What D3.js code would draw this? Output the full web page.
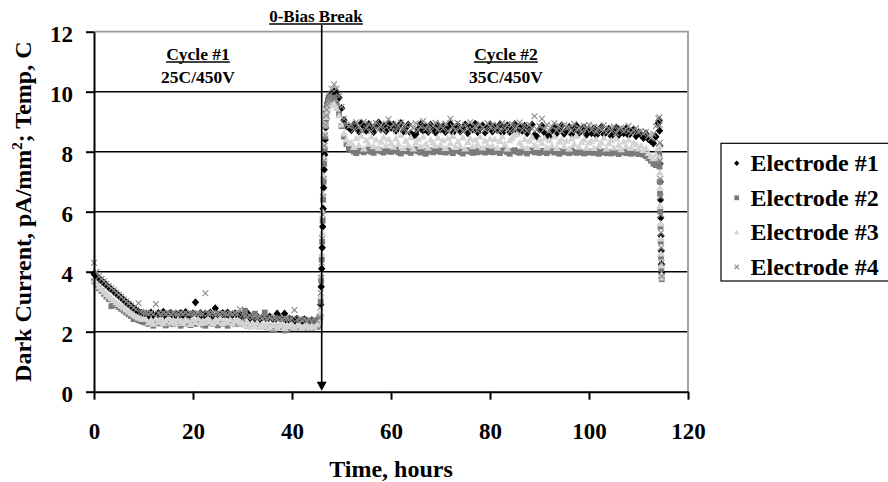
<!DOCTYPE html>
<html>
<head>
<meta charset="utf-8">
<script src="https://cdn.jsdelivr.net/npm/d3@7"></script>
<style>
  html, body { margin: 0; padding: 0; background: #fff; }
  svg { display: block; }
  text { font-family: "Liberation Serif", "Times New Roman", serif; font-weight: bold; fill: #000; }
</style>
</head>
<body>
<svg id="chart" width="888" height="482"></svg>
<script>
// Logger clock: first hour and sampling interval of each recorded segment
// (cycle 1, bias ramp-up, cycle 2, final ramp-down)
const segmentStart = [0, 45.6, 48, 114.2];
const segmentStep = [0.5, 0.1, 0.5, 0.05];

// Axis ticks
const xTicks = [0, 20, 40, 60, 80, 100, 120];
const yTicks = [0, 2, 4, 6, 8, 10, 12];

// Annotation positions (hours)
const breakHour = 46;

// ---- Electrode #1 (pA/mm^2) ----
const e1Cycle1 = [3.92,3.84,3.78,3.70,3.63,3.55,3.47,3.41,3.34,3.27,3.20,3.13,3.05,2.98,2.91,2.85,2.78,2.72,2.67,2.63,2.60,
  2.6,2.52,2.64,2.55,2.5,2.62,2.57,2.66,2.51,2.59,2.63,2.53,2.6,2.48,2.62,2.56,2.65,2.52,2.58,2.61,
  2.98,2.54,2.62,2.5,2.6,2.56,2.64,2.52,2.78,2.58,2.5,2.62,2.55,2.64,2.49,2.58,2.61,2.52,2.57,
  2.5,2.56,2.62,2.45,2.52,2.44,2.5,2.42,2.48,2.53,2.4,2.5,2.44,2.38,2.6,2.46,2.4,2.6,2.36,2.44,
  2.4,2.34,2.43,2.37,2.32,2.41,2.36,2.3,2.39,2.34,2.38,2.42];
const e1Rise = [2.42,2.55,2.9,3.5,4.1,4.8,5.5,6.1,6.8,7.4,7.9,8.4,8.8,9.1,9.35,9.5,9.6,9.68,9.75,9.8,9.85];
const e1Cycle2 = [9.9,10.0,10.0,9.8,9.45,9.05,8.85,8.8,
  8.72,8.9,8.8,8.68,8.95,8.84,8.7,8.92,8.78,8.66,8.88,8.97,8.74,8.86,8.69,8.93,8.8,
  8.9,8.7,8.84,8.95,8.67,8.8,8.9,8.62,8.52,8.58,8.75,8.92,8.7,8.83,8.66,8.9,8.78,8.64,8.88,8.74,
  8.85,8.66,8.78,8.92,8.63,8.8,8.88,8.68,8.75,8.9,8.62,8.82,8.74,8.93,8.65,8.79,8.87,8.64,8.8,8.9,
  8.68,8.84,8.72,8.9,8.62,8.8,8.88,8.66,8.76,8.92,8.64,8.82,8.7,8.86,8.62,8.78,8.9,8.56,8.5,8.74,
  8.86,8.64,8.55,8.5,8.7,8.84,8.62,8.76,8.88,8.6,8.72,8.82,8.58,8.74,8.86,8.63,8.7,8.8,8.57,8.72,
  8.62,8.78,8.55,8.7,8.82,8.58,8.66,8.76,8.52,8.68,8.8,8.56,8.7,8.62,8.77,8.54,8.66,8.74,8.52,8.64,
  8.56,8.46,8.6,8.42,8.36,8.28,8.5,8.95];
const e1Drop = [9.05,8.7,8.2,7.6,7.0,6.4,5.8,5.2,4.7,4.25,3.95];

// ---- Electrode #2 ----
const e2Cycle1 = [3.68,3.56,3.45,3.36,3.26,3.17,3.08,2.85,2.95,2.88,2.82,2.76,2.7,2.64,2.58,2.52,2.42,2.42,2.38,2.35,2.32,
  2.3,2.26,2.32,2.2,2.29,2.33,2.27,2.31,2.21,2.28,2.32,2.25,2.3,2.28,2.2,2.31,2.27,2.33,2.22,2.29,
  2.26,2.3,2.32,2.24,2.2,2.29,2.33,2.26,2.3,2.21,2.31,2.27,2.3,2.2,2.28,2.32,2.25,2.29,2.27,
  2.3,2.7,2.2,2.18,2.22,2.6,2.2,2.17,2.19,2.64,2.16,2.18,2.05,2.06,2.15,2.17,2.16,2.04,2.06,2.14,
  2.16,2.12,2.15,2.13,2.16,2.12,2.14,2.17,2.13,2.16,2.15,2.2];
const e2Rise = [2.3,2.5,3.0,3.7,4.4,5.0,5.7,6.4,7.0,7.6,8.1,8.5,8.85,9.1,9.3,9.42,9.5,9.56,9.6,9.62,9.64];
const e2Cycle2 = [9.7,9.8,9.6,9.25,8.85,8.5,8.25,8.1,
  8.05,8.0,7.95,8.02,8.06,7.98,8.03,8.08,8.0,7.96,8.04,8.07,8.01,7.97,8.05,8.02,7.99,
  8.03,8.06,7.98,7.94,8.02,8.05,8.0,7.96,8.04,8.08,8.01,7.97,8.03,7.93,8.0,8.05,7.98,8.02,8.06,7.99,
  8.02,7.97,8.05,8.0,7.95,8.03,8.07,7.99,7.94,8.02,8.05,8.0,7.96,8.04,7.98,8.01,8.06,7.97,8.03,8.0,
  7.98,8.04,8.0,7.95,8.03,8.06,7.98,7.93,8.02,8.05,7.99,7.96,8.03,8.0,7.94,8.02,8.05,7.98,8.01,7.96,
  8.03,7.99,7.95,8.02,8.05,7.97,8.0,7.93,8.03,7.98,8.01,7.95,8.04,7.99,7.96,8.02,7.98,7.94,8.01,7.97,
  8.0,7.96,8.02,7.93,7.98,8.01,7.95,7.99,7.94,8.0,7.97,7.92,7.98,8.01,7.95,7.97,7.93,7.99,7.96,7.92,
  7.95,7.9,7.85,7.78,7.7,7.6,7.55,7.65];
const e2Drop = [7.9,7.5,7.0,6.6,6.0,5.5,5.0,4.5,4.1,3.85,3.75];

// ---- Electrode #3 ----
const e3Cycle1 = [3.7,3.6,3.5,3.42,3.33,3.25,3.18,3.11,3.05,2.98,2.92,2.86,2.8,2.74,2.68,2.62,2.56,2.51,2.47,2.44,2.42,
  2.42,2.3,2.38,2.26,2.44,2.33,2.4,2.28,2.36,2.45,2.3,2.39,2.27,2.42,2.34,2.29,2.41,2.36,2.25,2.4,
  2.32,2.44,2.28,2.37,2.3,2.43,2.35,2.27,2.4,2.33,2.45,2.29,2.38,2.31,2.42,2.26,2.36,2.4,2.3,
  2.3,2.22,2.32,2.18,2.27,2.2,2.3,2.15,2.25,2.19,2.28,2.14,2.22,2.26,2.13,2.2,2.27,2.12,2.22,2.17,
  2.25,2.13,2.2,2.24,2.12,2.19,2.23,2.14,2.2,2.16,2.24,2.3];
const e3Rise = [2.35,2.6,3.2,3.9,4.6,5.3,6.0,6.6,7.2,7.8,8.2,8.6,8.9,9.15,9.3,9.4,9.48,9.52,9.56,9.58,9.6];
const e3Cycle2 = [9.55,9.6,9.45,9.2,8.9,8.6,8.4,8.28,
  8.3,8.15,8.45,8.22,8.52,8.1,8.38,8.26,8.5,8.18,8.4,8.12,8.33,8.48,8.2,8.42,8.28,
  8.16,8.44,8.25,8.55,8.12,8.36,8.22,8.48,8.1,8.3,8.42,8.18,8.5,8.26,8.13,8.4,8.3,8.2,8.46,8.24,
  8.38,8.12,8.45,8.28,8.52,8.15,8.34,8.2,8.47,8.1,8.32,8.44,8.18,8.4,8.25,8.5,8.14,8.36,8.22,8.43,
  8.2,8.42,8.13,8.35,8.5,8.24,8.1,8.38,8.46,8.55,8.6,8.3,8.18,8.42,8.12,8.36,8.48,8.22,8.15,8.4,
  8.28,8.45,8.14,8.38,8.2,8.5,8.12,8.33,8.42,8.18,8.36,8.1,8.44,8.25,8.52,8.16,8.32,8.4,8.13,8.3,
  8.36,8.12,8.42,8.2,8.3,8.46,8.1,8.28,8.38,8.14,8.44,8.22,8.08,8.34,8.18,8.4,8.12,8.3,8.24,8.1,
  8.2,8.05,8.12,7.95,7.85,7.78,7.9,8.1];
const e3Drop = [8.2,7.8,7.3,6.8,6.2,5.6,5.1,4.6,4.2,3.9,3.8];

// ---- Electrode #4 ----
const e4Cycle1 = [4.3,4.0,3.85,3.76,3.68,3.6,3.52,3.45,3.38,3.3,3.23,3.16,3.08,3.01,2.94,2.88,2.8,2.74,2.95,2.66,2.63,
  2.62,2.6,2.63,2.59,2.92,2.61,2.58,2.62,2.6,2.63,2.59,2.62,2.6,2.58,2.62,2.6,2.63,2.59,2.61,2.6,
  2.58,2.62,2.6,2.59,3.28,2.61,2.6,2.62,2.58,2.61,2.59,2.62,2.6,2.58,2.61,2.59,2.62,2.6,2.75,
  2.55,2.52,2.5,2.53,2.48,2.5,2.47,2.49,2.46,2.48,2.45,2.47,2.44,2.46,2.43,2.45,2.42,2.44,2.43,2.41,
  2.43,2.72,2.4,2.42,2.39,2.41,2.38,2.4,2.37,2.39,2.38,2.45];
const e4Rise = [2.5,2.8,3.3,3.8,4.3,5.1,5.9,6.5,7.1,7.7,8.2,8.55,8.9,9.2,9.4,9.55,9.65,9.72,9.8,9.85,9.9];
const e4Cycle2 = [10.1,10.25,10.1,9.85,9.5,9.1,8.9,8.85,
  8.9,8.74,8.98,8.82,8.7,9.0,8.78,8.92,8.68,8.86,8.96,8.75,8.88,8.72,8.94,9.08,8.8,
  8.92,8.7,8.85,8.97,8.74,8.88,8.66,8.9,8.78,8.95,8.72,8.84,9.02,8.76,8.9,8.68,8.86,8.96,8.74,8.88,
  8.78,8.94,8.7,9.1,8.84,8.72,8.96,8.8,8.68,8.9,8.76,8.98,8.72,8.86,8.7,8.92,8.8,8.74,8.95,8.82,
  8.9,8.72,8.86,8.7,8.96,8.78,8.88,8.68,8.92,8.76,8.84,8.97,8.72,8.88,8.7,8.9,8.78,9.18,8.74,8.86,
  9.1,8.76,8.9,8.7,8.84,8.95,8.72,8.86,8.68,8.9,8.78,8.82,8.7,8.92,8.74,8.8,8.66,8.86,8.76,8.9,
  8.72,8.84,8.66,8.8,8.74,8.88,8.64,8.78,8.7,8.84,8.62,8.76,8.8,8.68,8.74,8.86,8.62,8.72,8.78,8.66,
  8.7,8.6,8.66,8.52,8.45,8.6,8.85,9.1];
const e4Drop = [9.15,8.9,8.3,7.7,7.1,6.5,5.9,5.3,4.8,4.3,3.85];

const seriesNames = ["Electrode #1", "Electrode #2", "Electrode #3", "Electrode #4"];
const seriesSegments = [
  [e1Cycle1, e1Rise, e1Cycle2, e1Drop],
  [e2Cycle1, e2Rise, e2Cycle2, e2Drop],
  [e3Cycle1, e3Rise, e3Cycle2, e3Drop],
  [e4Cycle1, e4Rise, e4Cycle2, e4Drop]
];

// Marker styles per series
const markerPath = [
  "M0,-4.1L3.7,0L0,4.1L-3.7,0Z",
  "M-2.9,-2.9h5.8v5.8h-5.8Z",
  "M0,-3.7L4,2.9L-4,2.9Z",
  "M-2.9,-2.9L2.9,2.9M2.9,-2.9L-2.9,2.9"
];
const markerFill = ["#000", "#7a7a7a", "#d4d4d4", "none"];
const markerStroke = ["none", "none", "none", "#8a8a8a"];

// Build (hour, value) records
const series = seriesSegments.map((segs, s) => ({
  name: seriesNames[s],
  points: segs.flatMap((vals, k) => vals.map((v, i) => ({ t: segmentStart[k] + i * segmentStep[k], v })))
}));

const svg = d3.select("#chart");
const plot = { left: 94, right: 688, top: 31.7, bottom: 391.7 };

const x = d3.scaleLinear().domain([0, 120]).range([plot.left, plot.right]);
const y = d3.scaleLinear().domain([0, 12]).range([plot.bottom, plot.top]);

svg.append("rect").attr("width", 888).attr("height", 482).attr("fill", "#fff");

// Horizontal gridlines
svg.append("g")
  .selectAll("line")
  .data(yTicks.filter(d => d > 0 && d < 12))
  .join("line")
  .attr("x1", plot.left).attr("x2", plot.right)
  .attr("y1", d => y(d)).attr("y2", d => y(d))
  .attr("stroke", "#000").attr("stroke-width", 1.6);

// Plot-area border (top and right)
svg.append("path")
  .attr("d", `M${plot.left},${plot.top}H${plot.right}V${plot.bottom}`)
  .attr("fill", "none").attr("stroke", "#9a9a9a").attr("stroke-width", 1.8);

// Data markers
series.forEach((s, i) => {
  svg.append("g")
    .selectAll("path")
    .data(s.points)
    .join("path")
    .attr("transform", d => `translate(${x(d.t)},${y(d.v)})`)
    .attr("d", markerPath[i])
    .attr("fill", markerFill[i])
    .attr("stroke", markerStroke[i])
    .attr("stroke-width", 1.1);
});

// Axes
const yAxis = svg.append("g")
  .attr("transform", `translate(${plot.left},0)`)
  .call(d3.axisLeft(y).tickValues(yTicks).tickSize(8).tickPadding(13).tickSizeOuter(0).tickFormat(d3.format("d")));
const xAxis = svg.append("g")
  .attr("transform", `translate(0,${plot.bottom})`)
  .call(d3.axisBottom(x).tickValues(xTicks).tickSize(8).tickPadding(23).tickSizeOuter(0).tickFormat(d3.format("d")));

[yAxis, xAxis].forEach(g => {
  g.select(".domain").attr("stroke", "#000").attr("stroke-width", 2);
  g.selectAll(".tick line").attr("stroke", "#000").attr("stroke-width", 2);
  g.selectAll(".tick text")
    .attr("fill", "#000")
    .style("font-family", '"Liberation Serif","Times New Roman",serif')
    .style("font-weight", "bold")
    .style("font-size", "23px");
});
yAxis.selectAll(".tick text").attr("dy", "0.42em");

// Axis titles
svg.append("text")
  .attr("x", (plot.left + plot.right) / 2).attr("y", 477)
  .attr("text-anchor", "middle").style("font-size", "24px")
  .text("Time, hours");

const yTitle = svg.append("text")
  .attr("transform", `translate(31,${(plot.top + plot.bottom) / 2}) rotate(-90)`)
  .attr("text-anchor", "middle").style("font-size", "24px");
yTitle.append("tspan").text("Dark Current, pA/mm");
yTitle.append("tspan").attr("dy", -9).style("font-size", "15px").text("2");
yTitle.append("tspan").attr("dy", 9).text("; Temp, C");

// Underlined annotation helper
function label(txt, cx, baseline, size, underline) {
  const t = svg.append("text")
    .attr("x", cx).attr("y", baseline)
    .attr("text-anchor", "middle").style("font-size", size + "px")
    .text(txt);
  if (underline) {
    const w = t.node().getComputedTextLength();
    svg.append("line")
      .attr("x1", cx - w / 2).attr("x2", cx + w / 2)
      .attr("y1", baseline + 2).attr("y2", baseline + 2)
      .attr("stroke", "#000").attr("stroke-width", 1.3);
  }
}

label("0-Bias Break", 316, 22, 17, true);
label("Cycle #1", 198, 60, 17.5, true);
label("25C/450V", 198, 83, 17.5, false);
label("Cycle #2", 506, 60, 17.5, true);
label("35C/450V", 506, 83, 17.5, false);

// Bias-break arrow
const ax = x(breakHour);
svg.append("line")
  .attr("x1", ax).attr("x2", ax)
  .attr("y1", 25).attr("y2", plot.bottom - 9)
  .attr("stroke", "#000").attr("stroke-width", 1.6);
svg.append("path")
  .attr("d", `M${ax - 5},${plot.bottom - 10}L${ax + 5},${plot.bottom - 10}L${ax},${plot.bottom - 1}Z`)
  .attr("fill", "#000");

// Legend
const legend = svg.append("g");
legend.append("rect")
  .attr("x", 721).attr("y", 143.3).attr("width", 200).attr("height", 137.7)
  .attr("fill", "#fff").attr("stroke", "#000").attr("stroke-width", 1.2);
const legendMarker = [
  "M0,-2.8L2.6,0L0,2.8L-2.6,0Z",
  "M-2.4,-2.4h4.8v4.8h-4.8Z",
  "M0,-2.8L2.8,2.2L-2.8,2.2Z",
  "M-2.2,-2.2L2.2,2.2M2.2,-2.2L-2.2,2.2"
];
seriesNames.forEach((name, i) => {
  const cy = 163.3 + i * 34.5;
  legend.append("path")
    .attr("transform", `translate(736.7,${cy})`)
    .attr("d", legendMarker[i])
    .attr("fill", markerFill[i])
    .attr("stroke", markerStroke[i])
    .attr("stroke-width", 1.1);
  legend.append("text")
    .attr("x", 750.5).attr("y", cy).attr("dy", "0.34em")
    .style("font-size", "24px")
    .text(name);
});
</script>
</body>
</html>
